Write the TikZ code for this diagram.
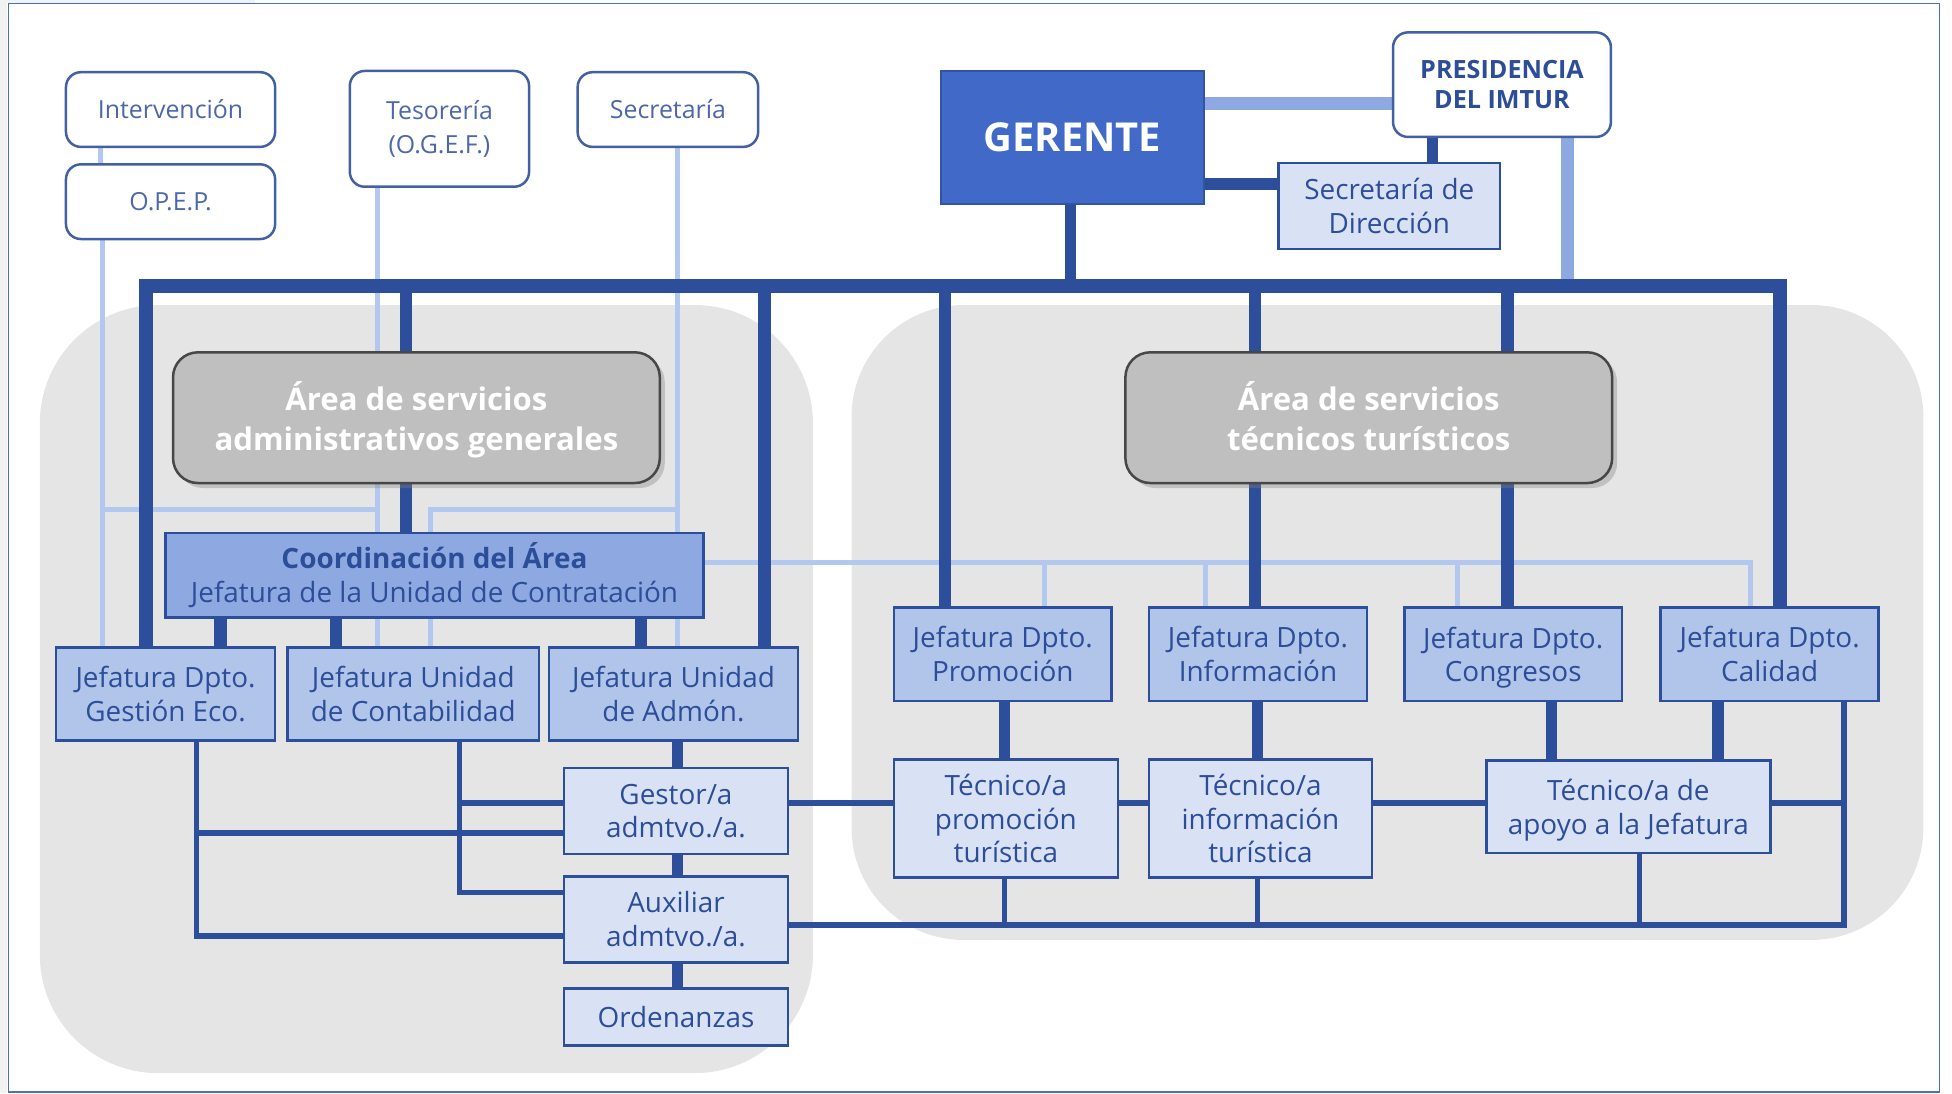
\documentclass[tikz,border=0pt]{standalone}
\usepackage{fontspec}
\setmainfont{Open Sans}
\usetikzlibrary{shadows}
\definecolor{dk}{HTML}{2D4F9B}
\definecolor{gfill}{HTML}{4069C8}
\definecolor{cfill}{HTML}{8EA9E1}
\definecolor{jfill}{HTML}{B1C5EB}
\definecolor{tfill}{HTML}{D9E2F5}
\definecolor{regn}{HTML}{E5E5E5}
\definecolor{abox}{HTML}{BFBFBF}
\definecolor{lt}{HTML}{B3C8EE}
\definecolor{md}{HTML}{8EA9E1}
\definecolor{txt}{HTML}{2C4D98}
\definecolor{frm}{HTML}{4A70C0}
\newcommand{\nodepth}[1]{\raisebox{0pt}[\height][0pt]{#1}}
\pgfdeclarelayer{back}
\pgfdeclarelayer{background}
\pgfsetlayers{back,background,main}
\begin{document}
\begin{tikzpicture}[x=1pt,y=-1pt,
  base/.style={inner sep=0pt, align=center, text=txt, font=\fontsize{22.4}{27}\selectfont},
  topbox/.style={base, draw=dk!90!white, line width=2pt, rounded corners=12pt, fill=white,
    text=txt!85!white, font=\fontsize{20}{27}\selectfont},
  jbox/.style={base, draw=dk, line width=2pt, fill=jfill},
  tbox/.style={base, draw=dk, line width=2pt, fill=tfill},
  areabox/.style={base, draw=black!72, line width=2pt, rounded corners=20pt, fill=abox,
    drop shadow={shadow xshift=4pt, shadow yshift=-4pt, opacity=0.35}},
  areatext/.style={inner sep=0pt, align=center, text=white, yshift=1pt,
    font=\bfseries\fontsize{25}{32}\selectfont},
  dkw/.style={draw=dk, line width=10pt},
  dkm/.style={draw=dk, line width=9pt},
  dkn/.style={draw=dk, line width=4.5pt},
  ltl/.style={draw=lt, line width=4pt},
  mdl/.style={draw=md, line width=10pt}]
\useasboundingbox (0,0) rectangle (1568,878);
% helper coordinates
\foreach \v in {81,82,117,158,177,270,303,326,346,369,515,544,614,759,807,839,860,968,1008,1010,1151,1171,1211,1246,1259,1317,1380,1406,1430,1481}
  \coordinate (x\v) at (\v,0);
\foreach \v in {83,148,230,409,452,645,669,717,743,752}
  \coordinate (h\v) at (0,\v);

% ---------- nodes ----------
\node[topbox, minimum width=168pt, minimum height=60pt] (interv) at (137,88) {Intervención};
\node[topbox, minimum width=168pt, minimum height=60pt] (opep) at (137,162) {O.P.E.P.};
\node[topbox, minimum width=144pt, minimum height=93pt] (tes) at (353,103.5) {Tesorería\\(O.G.E.F.)};
\node[topbox, minimum width=145pt, minimum height=60pt] (secr) at (536.5,88) {Secretaría};
\node[topbox, minimum width=175pt, minimum height=84pt, text=txt, font=\bfseries\fontsize{20.2}{24}\selectfont] (pres) at (1206.5,68) {PRESIDENCIA\\DEL IMTUR};
\node[base, draw=dk!80!gfill, line width=2pt, fill=gfill, text=white, font=\bfseries\fontsize{32}{36}\selectfont,
  minimum width=211pt, minimum height=107pt] (ger) at (861.5,110.5) {GERENTE};
\node[tbox, minimum width=178pt, minimum height=69pt] (secdir) at (1116,165.5) {Secretaría de\\Dirección};

\node[areabox, minimum width=391pt, minimum height=105pt,
  label={[areatext]center:{Área de servicios\\\nodepth{administrativos generales}}}] (areaL) at (334.5,335.5) {};
\node[areabox, minimum width=391pt, minimum height=105pt,
  label={[areatext]center:{Área de servicios\\técnicos turísticos}}] (areaR) at (1099.5,335.5) {};

\node[base, draw=dk, line width=2pt, fill=cfill, minimum width=432pt, minimum height=68pt] (coord) at (349,462)
  {\textbf{Coordinación del Área}\\Jefatura de la Unidad de Contratación};

\node[jbox, minimum width=176pt, minimum height=75pt] (jge) at (133,557.5) {Jefatura Dpto.\\Gestión Eco.};
\node[jbox, minimum width=202pt, minimum height=75pt] (jcont) at (332,557.5) {Jefatura Unidad\\de Contabilidad};
\node[jbox, minimum width=200pt, minimum height=75pt] (jadm) at (541,557.5) {Jefatura Unidad\\de Admón.};

\node[tbox, minimum width=180pt, minimum height=69pt] (gestor) at (543,651.5) {Gestor/a\\admtvo./a.};
\node[tbox, minimum width=180pt, minimum height=69pt] (aux) at (543,738.5) {Auxiliar\\admtvo./a.};
\node[tbox, minimum width=180pt, minimum height=46pt] (orden) at (543,817) {Ordenanzas};

\node[jbox, minimum width=175pt, minimum height=75pt] (jprom) at (805.5,525.5) {Jefatura Dpto.\\Promoción};
\node[jbox, minimum width=175pt, minimum height=75pt] (jinf) at (1010.5,525.5) {Jefatura Dpto.\\Información};
\node[jbox, minimum width=175pt, minimum height=75pt] (jcong) at (1215.5,525.5) {Jefatura Dpto.\\\nodepth{Congresos}};
\node[jbox, minimum width=175pt, minimum height=75pt] (jcal) at (1421.5,525.5) {Jefatura Dpto.\\Calidad};

\node[tbox, minimum width=180pt, minimum height=95pt] (tprom) at (808,657.5) {Técnico/a\\promoción\\turística};
\node[tbox, minimum width=179pt, minimum height=95pt] (tinf) at (1012.5,657.5) {Técnico/a\\información\\turística};
\node[tbox, minimum width=228pt, minimum height=74pt] (tapoyo) at (1308,648) {Técnico/a de\\\nodepth{apoyo a la Jefatura}};

% ---------- backdrop ----------
\begin{pgfonlayer}{back}
  \fill[black!5] (0,0) rectangle (6,878);
  \fill[black!5] (0,0) rectangle (205,2.5);
  \draw[frm, line width=1.2pt] (7,3) rectangle (1558,877);
  \fill[regn, rounded corners=95pt] (32,245) rectangle (653,862);
  \fill[regn, rounded corners=90pt] (684,245) rectangle (1545,755);
\end{pgfonlayer}

% ---------- connectors ----------
\begin{pgfonlayer}{background}
  % light lines
  \draw[ltl] (x81 |- interv.south) -- (x81 |- opep.north);
  \draw[ltl] (x82 |- opep.south) -- (x82 |- jge.north);
  \draw[ltl] (x303 |- tes.south) -- (x303 |- jcont.north);
  \draw[ltl] (x82 |- h409) -- (x303 |- h409);
  \draw[ltl] (x544 |- secr.south) -- (x544 |- jadm.north);
  \draw[ltl] (x544 |- h409) -- (x346 |- h409) -- (x346 |- jcont.north);
  \draw[ltl] (coord.east |- h452) -- (x1406 |- h452) -- (x1406 |- jcal.north);
  \draw[ltl] (x839 |- h452) -- (x839 |- jprom.north);
  \draw[ltl] (x968 |- h452) -- (x968 |- jinf.north);
  \draw[ltl] (x1171 |- h452) -- (x1171 |- jcong.north);
  % medium lines
  \draw[mdl] (ger.east |- h83) -- (pres.west |- h83);
  \draw[mdl] (x1259 |- pres.south) -- (x1259 |- h230);
  % thin dark lines
  \draw[dkn] (x158 |- jge.south) -- (x158 |- h752) -- (aux.west |- h752);
  \draw[dkn] (gestor.west |- h669) -- (x158 |- h669);
  \draw[dkn] (x369 |- jcont.south) -- (x369 |- h717) -- (aux.west |- h717);
  \draw[dkn] (gestor.west |- h645) -- (x369 |- h645);
  \draw[dkn] (gestor.east |- h645) -- (x1481 |- h645);
  \draw[dkn] (x1481 |- jcal.south) -- (x1481 |- h743) -- (aux.east |- h743);
  \draw[dkn] (x807 |- tprom.south) -- (x807 |- h743);
  \draw[dkn] (x1010 |- tinf.south) -- (x1010 |- h743);
  \draw[dkn] (x1317 |- tapoyo.south) -- (x1317 |- h743);
  % thick dark lines
  \draw[dkw, line width=11pt] (x117 |- jge.north) -- (x117 |- h230) -- (x1430 |- h230) -- (x1430 |- jcal.north);
  \draw[dkm] (x860 |- ger.south) -- (x860 |- h230);
  \draw[dkw] (x326 |- h230) -- (x326 |- coord.north);
  \draw[dkw] (x614 |- h230) -- (x614 |- jadm.north);
  \draw[dkw] (x759 |- h230) -- (x759 |- jprom.north);
  \draw[dkw] (x1008 |- h230) -- (x1008 |- jinf.north);
  \draw[dkw] (x1211 |- h230) -- (x1211 |- jcong.north);
  \draw[dkw] (x177 |- coord.south) -- (x177 |- jge.north);
  \draw[dkw] (x270 |- coord.south) -- (x270 |- jcont.north);
  \draw[dkw] (x515 |- coord.south) -- (x515 |- jadm.north);
  \draw[dkm] (x544 |- jadm.south) -- (x544 |- orden.north);
  \draw[dkm] (x807 |- jprom.south) -- (x807 |- tprom.north);
  \draw[dkm] (x1010 |- jinf.south) -- (x1010 |- tinf.north);
  \draw[dkm] (x1246 |- jcong.south) -- (x1246 |- tapoyo.north);
  \draw[dkm] (x1380 |- jcal.south) -- (x1380 |- tapoyo.north);
  \draw[dkw] (ger.east |- h148) -- (secdir.west |- h148);
  \draw[dkm] (x1151 |- pres.south) -- (x1151 |- secdir.north);
\end{pgfonlayer}
\end{tikzpicture}
\end{document}
